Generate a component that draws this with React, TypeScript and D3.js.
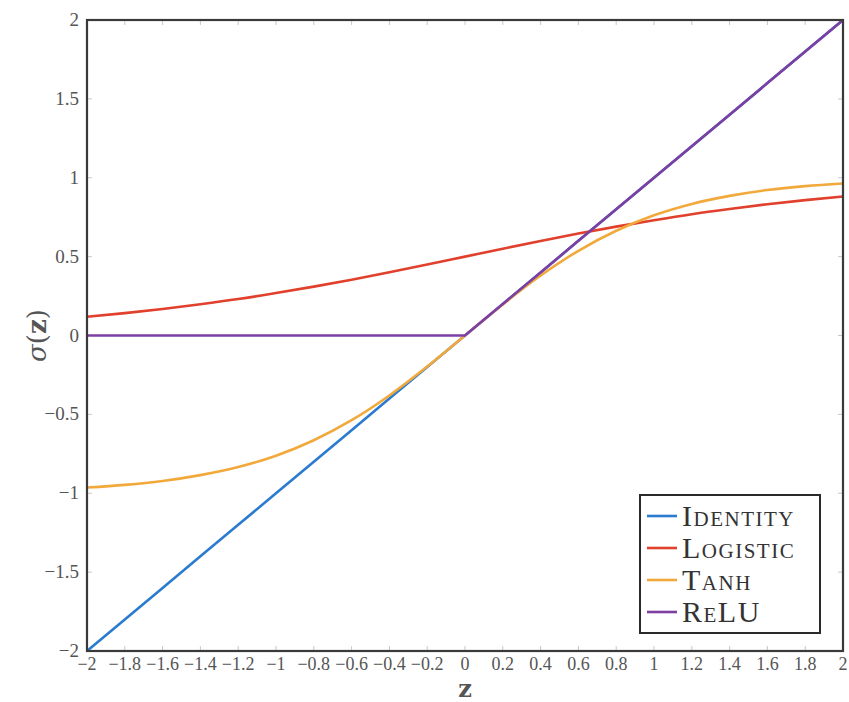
import React from 'react';
import * as d3 from 'd3';

// sample points (z every 0.2)
const zValues = [-2, -1.8, -1.6, -1.4, -1.2, -1, -0.8, -0.6, -0.4, -0.2, 0, 0.2, 0.4, 0.6, 0.8, 1, 1.2, 1.4, 1.6, 1.8, 2];
const identityValues = [-2, -1.8, -1.6, -1.4, -1.2, -1, -0.8, -0.6, -0.4, -0.2, 0, 0.2, 0.4, 0.6, 0.8, 1, 1.2, 1.4, 1.6, 1.8, 2];
const logisticValues = [0.119, 0.142, 0.168, 0.198, 0.231, 0.269, 0.31, 0.354, 0.401, 0.45, 0.5, 0.55, 0.599, 0.646, 0.69, 0.731, 0.769, 0.802, 0.832, 0.858, 0.881];
const tanhValues = [-0.964, -0.947, -0.922, -0.885, -0.834, -0.762, -0.664, -0.537, -0.38, -0.197, 0, 0.197, 0.38, 0.537, 0.664, 0.762, 0.834, 0.885, 0.922, 0.947, 0.964];
const reluValues = [0, 0, 0, 0, 0, 0, 0, 0, 0, 0, 0, 0.2, 0.4, 0.6, 0.8, 1, 1.2, 1.4, 1.6, 1.8, 2];

const seriesNames = ['Identity', 'Logistic', 'Tanh', 'ReLU'];
const seriesColors = ['#2a7bd0', '#e0402c', '#f2a93b', '#7e3fa3'];
const seriesSmooth = [false, true, true, false];

const xTicks = [-2, -1.8, -1.6, -1.4, -1.2, -1, -0.8, -0.6, -0.4, -0.2, 0, 0.2, 0.4, 0.6, 0.8, 1, 1.2, 1.4, 1.6, 1.8, 2];
const yTicks = [-2, -1.5, -1, -0.5, 0, 0.5, 1, 1.5, 2];

const fmt = (v: number) => (v < 0 ? '\u2212' + String(Math.abs(v)) : String(v));

export default function App() {
  const W = 849, H = 702;
  const left = 87, right = 843, top = 20, bottom = 651;
  const x = d3.scaleLinear().domain([-2, 2]).range([left, right]);
  const y = d3.scaleLinear().domain([-2, 2]).range([bottom, top]);
  const smoothLine = d3.line<[number, number]>().x(d => x(d[0])).y(d => y(d[1])).curve(d3.curveMonotoneX);
  const straightLine = d3.line<[number, number]>().x(d => x(d[0])).y(d => y(d[1]));

  const all = [identityValues, logisticValues, tanhValues, reluValues];
  const font = '"DejaVu Serif", "Liberation Serif", serif';
  const tickLen = 5;

  return (
    <svg width={W} height={H} style={{ position: 'absolute', left: 0, top: 0, background: '#fff', fontFamily: font }}>
      {/* ticks inward on all four sides */}
      {xTicks.map((t, i) => (
        <g key={'xt' + i} stroke="#c8c8c8" strokeWidth={1}>
          <line x1={x(t)} x2={x(t)} y1={bottom} y2={bottom - tickLen} />
          <line x1={x(t)} x2={x(t)} y1={top} y2={top + tickLen} />
        </g>
      ))}
      {yTicks.map((t, i) => (
        <g key={'yt' + i} stroke="#c8c8c8" strokeWidth={1}>
          <line x1={left} x2={left + tickLen} y1={y(t)} y2={y(t)} />
          <line x1={right} x2={right - tickLen} y1={y(t)} y2={y(t)} />
        </g>
      ))}
      {/* curves */}
      {all.map((vals, k) => {
        const pts = zValues.map((z, i) => [z, vals[i]] as [number, number]);
        const gen = seriesSmooth[k] ? smoothLine : straightLine;
        return (
          <path key={seriesNames[k]} d={gen(pts) || ''} fill="none" stroke={seriesColors[k]} strokeWidth={2.6} />
        );
      })}
      {/* frame */}
      <rect x={left} y={top} width={right - left} height={bottom - top} fill="none" stroke="#3a3a3a" strokeWidth={2.2} />
      {/* tick labels */}
      {xTicks.map((t, i) => (
        <text key={'xl' + i} x={x(t)} y={bottom + 19} textAnchor="middle" fill="#555" style={{ fontFamily: '"Liberation Serif", serif', fontSize: 18 }}>
          {fmt(t)}
        </text>
      ))}
      {yTicks.map((t, i) => (
        <text key={'yl' + i} x={left - 8} y={y(t) + 6} textAnchor="end" fill="#555" style={{ fontFamily: '"Liberation Serif", serif', fontSize: 19 }}>
          {fmt(t)}
        </text>
      ))}
      {/* axis titles */}
      <text x={x(0)} y={697} textAnchor="middle" fontWeight="bold" fill="#555" style={{ fontFamily: font, fontSize: 24 }}>z</text>
      <text transform={`translate(46, ${y(0)}) rotate(-90)`} textAnchor="middle" fill="#555" style={{ fontFamily: font, fontSize: 26 }}>
        <tspan fontStyle="italic">σ</tspan>(<tspan fontWeight="bold">z</tspan>)
      </text>
      {/* legend */}
      <g>
        <rect x={640} y={495} width={180} height={138} fill="#fff" stroke="#2a2a2a" strokeWidth={2} />
        {seriesNames.map((name, i) => {
          const ly = 516 + i * 32;
          return (
            <g key={'lg' + name}>
              <line x1={647} x2={677} y1={ly} y2={ly} stroke={seriesColors[i]} strokeWidth={2.6} />
              <text x={682} y={ly + 10} fill="#333" style={{ fontFamily: '"Liberation Serif", serif', fontSize: 30, fontVariant: 'small-caps', letterSpacing: 1.5 }}>
                {name}
              </text>
            </g>
          );
        })}
      </g>
    </svg>
  );
}
